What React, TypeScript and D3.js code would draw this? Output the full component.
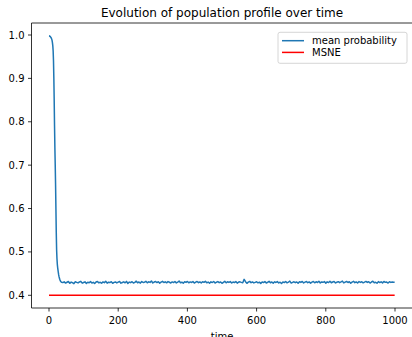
import React from "react";
import * as d3 from "d3";

// Transient phase: time steps and mean probability
const transientTimes = [0, 1, 2, 3, 4, 5, 6, 7, 8, 9, 10, 11, 12, 13, 14, 15, 16, 17, 18, 19, 20, 21, 22, 23, 24, 25, 26, 27, 28, 29, 30, 31, 32, 33, 34, 35, 36];
const transientValues = [0.998, 0.998, 0.997, 0.997, 0.996, 0.995, 0.994, 0.992, 0.990, 0.987, 0.982, 0.975, 0.963, 0.94, 0.90, 0.85, 0.79, 0.74, 0.70, 0.655, 0.60, 0.545, 0.505, 0.485, 0.472, 0.464, 0.458, 0.452, 0.447, 0.443, 0.440, 0.437, 0.435, 0.433, 0.432, 0.431, 0.430];

// Stationary phase: sampled every 4 steps from t=40
const stationaryStart = 40;
const stationaryStep = 4;
const stationaryValues = [
  0.4295, 0.4310, 0.4282, 0.4301, 0.4318, 0.4276, 0.4305, 0.4290, 0.4268, 0.4312, 0.4299, 0.4285, 0.4307, 0.4322, 0.4280, 0.4296, 0.4311, 0.4274, 0.4302, 0.4289,
  0.4315, 0.4283, 0.4298, 0.4271, 0.4306, 0.4319, 0.4287, 0.4300, 0.4278, 0.4309, 0.4292, 0.4325, 0.4281, 0.4303, 0.4294, 0.4313, 0.4276, 0.4297, 0.4308, 0.4286,
  0.4302, 0.4318, 0.4279, 0.4295, 0.4311, 0.4288, 0.4320, 0.4273, 0.4305, 0.4291, 0.4314, 0.4284, 0.4299, 0.4326, 0.4290, 0.4307, 0.4281, 0.4316, 0.4296, 0.4303,
  0.4322, 0.4289, 0.4311, 0.4298, 0.4329, 0.4285, 0.4306, 0.4319, 0.4293, 0.4312, 0.4280, 0.4304, 0.4321, 0.4295, 0.4310, 0.4287, 0.4317, 0.4300, 0.4283, 0.4308,
  0.4294, 0.4318, 0.4286, 0.4305, 0.4327, 0.4290, 0.4301, 0.4279, 0.4313, 0.4298, 0.4320, 0.4288, 0.4309, 0.4296, 0.4315, 0.4282, 0.4303, 0.4319, 0.4292, 0.4307,
  0.4285, 0.4312, 0.4299, 0.4324, 0.4287, 0.4306, 0.4278, 0.4310, 0.4295, 0.4318, 0.4283, 0.4302, 0.4316, 0.4291, 0.4308, 0.4277, 0.4300, 0.4322, 0.4289, 0.4311,
  0.4297, 0.4315, 0.4284, 0.4306, 0.4293, 0.4319, 0.4281, 0.4304, 0.4310, 0.4298, 0.4287, 0.4368, 0.4313, 0.4276, 0.4302, 0.4320, 0.4291, 0.4307, 0.4285, 0.4299,
  0.4312, 0.4288, 0.4303, 0.4275, 0.4309, 0.4294, 0.4317, 0.4283, 0.4300, 0.4321, 0.4290, 0.4306, 0.4279, 0.4311, 0.4296, 0.4315, 0.4285, 0.4302, 0.4273, 0.4308,
  0.4293, 0.4318, 0.4287, 0.4305, 0.4326, 0.4282, 0.4299, 0.4311, 0.4290, 0.4308, 0.4276, 0.4314, 0.4297, 0.4320, 0.4286, 0.4303, 0.4317, 0.4292, 0.4309, 0.4281,
  0.4304, 0.4319, 0.4288, 0.4312, 0.4296, 0.4323, 0.4284, 0.4307, 0.4299, 0.4316, 0.4280, 0.4310, 0.4293, 0.4325, 0.4289, 0.4306, 0.4318, 0.4285, 0.4301, 0.4314,
  0.4291, 0.4308, 0.4327, 0.4286, 0.4303, 0.4319, 0.4295, 0.4312, 0.4279, 0.4305, 0.4322, 0.4290, 0.4309, 0.4283, 0.4316, 0.4298, 0.4311, 0.4287, 0.4304, 0.4320,
  0.4296, 0.4313, 0.4282, 0.4307, 0.4324, 0.4290, 0.4301, 0.4278, 0.4315, 0.4294, 0.4310, 0.4286, 0.4318, 0.4299, 0.4305, 0.4283, 0.4311, 0.4297, 0.4308, 0.4302,
];
const finalTime = 999;
const finalValue = 0.4300;

const msneTimes = [0, 999];
const msneValues = [0.4, 0.4];

const xTicks = [0, 200, 400, 600, 800, 1000];
const yTicks = [0.4, 0.5, 0.6, 0.7, 0.8, 0.9, 1.0];

const seriesNames = ["mean probability", "MSNE"];
const seriesColors = ["#1f77b4", "#ff0000"];

const FONT = "DejaVu Sans, sans-serif";

export default function App() {
  const W = 412, H = 337;
  const x = d3.scaleLinear().domain([0, 1000]).range([49, 395]);
  const y = d3.scaleLinear().domain([0.4, 1.0]).range([295.3, 35]);
  const left = 31.5, right = 412.6, top = 23, bottom = 308;

  const meanData: [number, number][] = [];
  transientTimes.forEach((t, i) => meanData.push([t, transientValues[i]]));
  stationaryValues.forEach((v, i) => meanData.push([stationaryStart + i * stationaryStep, v]));
  meanData.push([finalTime, finalValue]);
  const msneData: [number, number][] = msneTimes.map((t, i) => [t, msneValues[i]]);

  const line = d3.line<[number, number]>().x(d => x(d[0])).y(d => y(d[1]));

  return (
    <svg width={W} height={H} style={{ position: "absolute", left: 0, top: 0 }} fontFamily={FONT}>
      <rect x={0} y={0} width={W} height={H} fill="#fff" />
      <text x={(left + right) / 2} y={17} textAnchor="middle" fontSize={12} fill="#000">
        Evolution of population profile over time
      </text>
      <path d={line(meanData) || ""} fill="none" stroke={seriesColors[0]} strokeWidth={1.5} strokeLinejoin="round" />
      <path d={line(msneData) || ""} fill="none" stroke={seriesColors[1]} strokeWidth={1.5} />
      {/* spines */}
      <line x1={left} y1={top} x2={left} y2={bottom} stroke="#000" strokeWidth={0.8} />
      <line x1={left} y1={bottom} x2={right} y2={bottom} stroke="#000" strokeWidth={0.8} />
      <line x1={left} y1={top} x2={right} y2={top} stroke="#000" strokeWidth={0.8} />
      <line x1={right} y1={top} x2={right} y2={bottom} stroke="#000" strokeWidth={0.8} />
      {xTicks.map(t => (
        <g key={"x" + t}>
          <line x1={x(t)} x2={x(t)} y1={bottom} y2={bottom + 3.5} stroke="#000" strokeWidth={0.8} />
          <text x={x(t)} y={bottom + 16} textAnchor="middle" fontSize={10} fill="#000">{t}</text>
        </g>
      ))}
      {yTicks.map(t => (
        <g key={"y" + t}>
          <line x1={left - 3.5} x2={left} y1={y(t)} y2={y(t)} stroke="#000" strokeWidth={0.8} />
          <text x={left - 7} y={y(t)} dy="0.35em" textAnchor="end" fontSize={10} fill="#000">{t.toFixed(1)}</text>
        </g>
      ))}
      <text x={(left + right) / 2} y={339.5} textAnchor="middle" fontSize={10} fill="#000">time</text>
      {/* legend */}
      <rect x={278} y={32.3} width={129} height={31} rx={2} fill="#fff" fillOpacity={0.8} stroke="#cccccc" strokeWidth={0.8} />
      {seriesNames.map((name, i) => (
        <g key={name}>
          <line x1={282} x2={304} y1={40.7 + i * 11.7} y2={40.7 + i * 11.7} stroke={seriesColors[i]} strokeWidth={1.5} />
          <text x={312} y={40.7 + i * 11.7} dy="0.35em" fontSize={10} fill="#000">{name}</text>
        </g>
      ))}
    </svg>
  );
}
